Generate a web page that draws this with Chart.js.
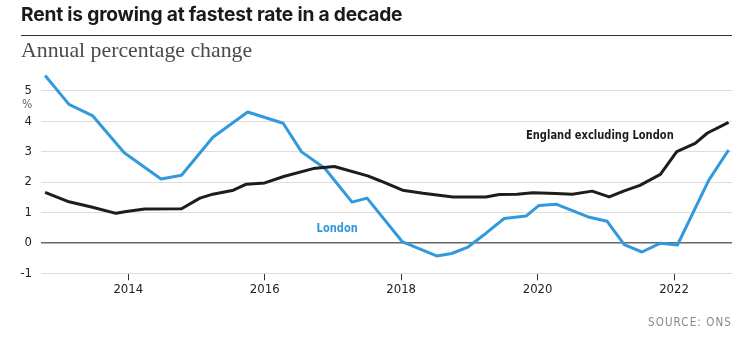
<!DOCTYPE html>
<html><head><meta charset="utf-8">
<script src="https://cdn.jsdelivr.net/npm/chart.js@4/dist/chart.umd.min.js"></script>
<style>
html,body{margin:0;padding:0;background:#fff;}
body{width:745px;height:337px;position:relative;overflow:hidden;}
#c{position:absolute;left:0;top:0;}
.t{position:absolute;white-space:nowrap;z-index:2;}
#title{left:21px;top:2px;font-weight:700;font-size:19.2px;font-family:Inter,'Open Sans',sans-serif;color:#1a1a1a;letter-spacing:-0.2px;}
#rule{position:absolute;left:21px;top:35px;width:711px;height:1px;background:#333;}
#sub{left:21px;top:38px;font-size:21.8px;font-family:'Liberation Serif',serif;color:#4a4a4a;}
#pct{left:22px;top:97px;font-size:12px;font-family:'Liberation Sans Narrow','DejaVu Sans Condensed',sans-serif;color:#666;}
#src{right:13px;top:315px;font-size:11.5px;letter-spacing:1.1px;font-family:'Liberation Sans Narrow','DejaVu Sans Condensed',sans-serif;color:#888;}
</style></head>
<body>
<div id="title" class="t">Rent is growing at fastest rate in a decade</div>
<div id="rule"></div>
<div id="sub" class="t">Annual percentage change</div>
<div id="pct" class="t">%</div>
<div id="src" class="t">SOURCE: ONS</div>
<canvas id="c" width="745" height="337"></canvas>
<script>
// Data (decimal years, annual % change)
const londonDates = [2012.78,2013.13,2013.48,2013.94,2014.48,2014.78,2015.24,2015.75,2016.27,2016.54,2016.88,2017.28,2017.50,2018.02,2018.52,2018.74,2018.97,2019.24,2019.51,2019.83,2020.02,2020.27,2020.76,2021.02,2021.27,2021.53,2021.80,2022.05,2022.51,2022.80];
const londonValues = [5.5,4.55,4.17,2.96,2.10,2.22,3.47,4.30,3.93,2.99,2.45,1.34,1.47,0.03,-0.43,-0.35,-0.15,0.31,0.80,0.88,1.23,1.27,0.84,0.71,-0.06,-0.30,-0.01,-0.07,2.06,3.05];
const englandDates = [2012.78,2013.13,2013.46,2013.82,2013.97,2014.24,2014.78,2015.05,2015.24,2015.54,2015.73,2016.00,2016.29,2016.71,2017.02,2017.51,2017.68,2018.02,2018.32,2018.76,2019.24,2019.44,2019.70,2019.93,2020.27,2020.51,2020.80,2021.05,2021.27,2021.50,2021.80,2022.04,2022.31,2022.49,2022.80];
const englandValues = [1.66,1.35,1.18,0.97,1.03,1.11,1.12,1.47,1.60,1.73,1.93,1.97,2.19,2.44,2.51,2.20,2.05,1.73,1.63,1.51,1.51,1.59,1.60,1.65,1.62,1.60,1.70,1.51,1.71,1.89,2.25,3.00,3.27,3.61,3.96];
const xTicks = [2014,2016,2018,2020,2022];
const yTicks = [-1,0,1,2,3,4,5];
const seriesNames = ['England excluding London','London'];

const BLUE = '#3399dd', BLACK = '#1d1d1b';
const condensed = "'Liberation Sans Narrow','DejaVu Sans Condensed',sans-serif";

function narrowText(ctx, text, px, py, sx){
  ctx.save();
  ctx.translate(px, py);
  ctx.scale(sx, 1);
  ctx.fillText(text, 0, 0);
  ctx.restore();
}

const labelPlugin = {
  id:'seriesLabels',
  afterDatasetsDraw(chart){
    const {ctx, scales:{x,y}} = chart;
    ctx.save();
    ctx.font = 'bold 13px ' + condensed;
    ctx.textBaseline = 'alphabetic';
    ctx.textAlign = 'left';
    ctx.fillStyle = BLACK;
    narrowText(ctx, seriesNames[0], x.getPixelForValue(2019.83), y.getPixelForValue(3.41), 0.85);
    ctx.fillStyle = BLUE;
    narrowText(ctx, seriesNames[1], x.getPixelForValue(2016.76), y.getPixelForValue(0.37), 0.85);
    ctx.restore();
  }
};

new Chart(document.getElementById('c'), {
  type:'line',
  data:{datasets:[
    {label:seriesNames[0], data:englandDates.map((d,i)=>({x:d,y:englandValues[i]})), borderColor:BLACK, borderWidth:3, pointRadius:0, tension:0, fill:false, borderJoinStyle:'round'},
    {label:seriesNames[1], data:londonDates.map((d,i)=>({x:d,y:londonValues[i]})), borderColor:BLUE, borderWidth:3, pointRadius:0, tension:0, fill:false, borderJoinStyle:'round'}
  ]},
  options:{
    responsive:false, animation:false,
    layout:{padding:{top:69.4,right:13,bottom:33.7,left:0}},
    plugins:{legend:{display:false}, tooltip:{enabled:false}},
    scales:{
      x:{type:'linear', min:2012.72, max:2022.85,
        afterBuildTicks:s=>{s.ticks = xTicks.map(v=>({value:v}));},
        afterFit:s=>{s.height = 30;},
        grid:{drawOnChartArea:false, drawTicks:true, tickLength:7, color:'#333'},
        border:{display:false},
        ticks:{font:{family:condensed, size:13}, color:'#222', padding:2, maxRotation:0, autoSkip:false, callback:v=>String(v)}
      },
      y:{min:-1, max:5.7,
        afterBuildTicks:s=>{s.ticks = yTicks.map(v=>({value:v}));},
        afterFit:s=>{s.width = 41;},
        grid:{drawTicks:false, color:c=>c.tick && c.tick.value===0 ? '#666' : '#dddddd', lineWidth:c=>c.tick && c.tick.value===0 ? 1.5 : 1},
        border:{display:false},
        ticks:{font:{family:condensed, size:13}, color:'#222', padding:9, callback:v=>String(v)}
      }
    }
  },
  plugins:[labelPlugin]
});
</script>
</body></html>
